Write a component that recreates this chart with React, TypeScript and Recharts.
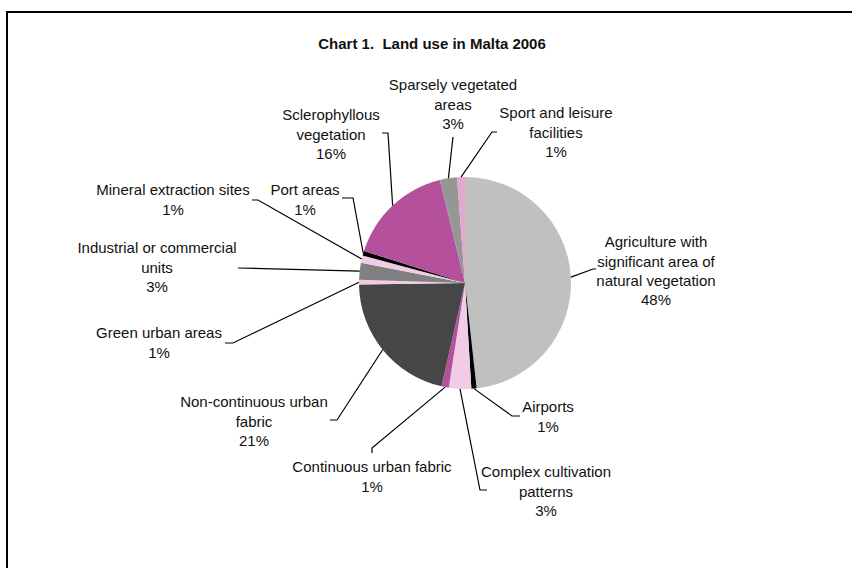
import { PieChart, Pie, Cell } from 'recharts'

// Land use categories (clockwise from 12 o'clock)
const categories = [
  'Agriculture with significant area of natural vegetation',
  'Airports',
  'Complex cultivation patterns',
  'Continuous urban fabric',
  'Non-continuous urban fabric',
  'Green urban areas',
  'Industrial or commercial units',
  'Mineral extraction sites',
  'Port areas',
  'Sclerophyllous vegetation',
  'Sparsely vegetated areas',
  'Sport and leisure facilities',
]

// share of land area, %
const shares = [48.2, 0.8, 3.4, 1.1, 21.2, 0.7, 2.6, 1.1, 0.7, 16.3, 2.6, 1.2]

// how each label is wrapped on the chart
const labelLines = [
  ['Agriculture with', 'significant area of', 'natural vegetation'],
  ['Airports'],
  ['Complex cultivation', 'patterns'],
  ['Continuous urban fabric'],
  ['Non-continuous urban', 'fabric'],
  ['Green urban areas'],
  ['Industrial or commercial', 'units'],
  ['Mineral extraction sites'],
  ['Port areas'],
  ['Sclerophyllous', 'vegetation'],
  ['Sparsely vegetated', 'areas'],
  ['Sport and leisure', 'facilities'],
]

const colors = [
  '#C0C0C0',
  '#000000',
  '#F0CCE6',
  '#B4509C',
  '#464646',
  '#F0CCE6',
  '#808080',
  '#F0CCE6',
  '#000000',
  '#B4509C',
  '#969696',
  '#E0AAD0',
]

// manual label placement (leader elbow, leader end, text centre x, first line centre y)
const labelLayout = [
  { ex: 593, ey: 269, tx: 596, ty: 269, cx: 656, cy: 242 },
  { ex: 512, ey: 416, tx: 520, ty: 416, cx: 548, cy: 407 },
  { ex: 480, ey: 490, tx: 487, ty: 490, cx: 546, cy: 472 },
  { ex: 372, ey: 448, tx: 372, ty: 453, cx: 372, cy: 467 },
  { ex: 337, ey: 420, tx: 330, ty: 420, cx: 254, cy: 402 },
  { ex: 233, ey: 343, tx: 225, ty: 343, cx: 159, cy: 333 },
  { ex: 238, ey: 268, tx: 238, ty: 268, cx: 157, cy: 248 },
  { ex: 258, ey: 200, tx: 252, ty: 200, cx: 173, cy: 190 },
  { ex: 353, ey: 198, tx: 342, ty: 198, cx: 305, cy: 190 },
  { ex: 388, ey: 133, tx: 382, ty: 133, cx: 331, cy: 115 },
  { ex: 453, ey: 137, tx: 453, ty: 137, cx: 453, cy: 85 },
  { ex: 492, ey: 132, tx: 497, ty: 132, cx: 556, cy: 113 },
]

const LINE_H = 19.3
const RAD = Math.PI / 180

const data = categories.map((name, i) => ({ name, value: shares[i] }))

const renderLabel = (props: any) => {
  const { cx, cy, midAngle, outerRadius, percent, index } = props
  const lay = labelLayout[index]
  const sx = cx + outerRadius * Math.cos(-midAngle * RAD)
  const sy = cy + outerRadius * Math.sin(-midAngle * RAD)
  const lines = [...labelLines[index], `${Math.round(percent * 100)}%`]
  return (
    <g key={`lbl-${index}`}>
      <polyline
        points={`${sx},${sy} ${lay.ex},${lay.ey} ${lay.tx},${lay.ty}`}
        fill="none"
        stroke="#000"
        strokeWidth={1.2}
      />
      <text
        x={lay.cx}
        y={lay.cy}
        textAnchor="middle"
        fill="#111"
        style={{ fontSize: '15px', fontFamily: '"Liberation Sans", Arial, sans-serif' }}
      >
        {lines.map((t, k) => (
          <tspan key={k} x={lay.cx} y={lay.cy + k * LINE_H} dy="0.35em">
            {t}
          </tspan>
        ))}
      </text>
    </g>
  )
}

export default function App() {
  return (
    <div style={{ position: 'absolute', left: 0, top: 0, width: 852, height: 568, background: '#fff' }}>
      <div
        style={{
          position: 'absolute',
          left: 6,
          top: 11,
          width: 860,
          height: 570,
          borderLeft: '2px solid #000',
          borderTop: '2px solid #000',
        }}
      />
      <div
        style={{
          position: 'absolute',
          left: 0,
          top: 35,
          width: 864,
          textAlign: 'center',
          fontFamily: '"Liberation Sans", Arial, sans-serif',
          fontWeight: 'bold',
          fontSize: '15px',
          color: '#111',
        }}
      >
        Chart 1.&nbsp; Land use in Malta 2006
      </div>
      <div style={{ position: 'absolute', left: 0, top: 0 }}>
        <PieChart width={852} height={568} margin={{ top: 0, right: 0, bottom: 0, left: 0 }}>
          <Pie
            data={data}
            dataKey="value"
            nameKey="name"
            cx={465}
            cy={283}
            outerRadius={106}
            startAngle={90}
            endAngle={-270}
            stroke="none"
            labelLine={false}
            label={renderLabel}
            isAnimationActive={false}
          >
            {data.map((d, i) => (
              <Cell key={d.name} fill={colors[i]} />
            ))}
          </Pie>
        </PieChart>
      </div>
    </div>
  )
}
